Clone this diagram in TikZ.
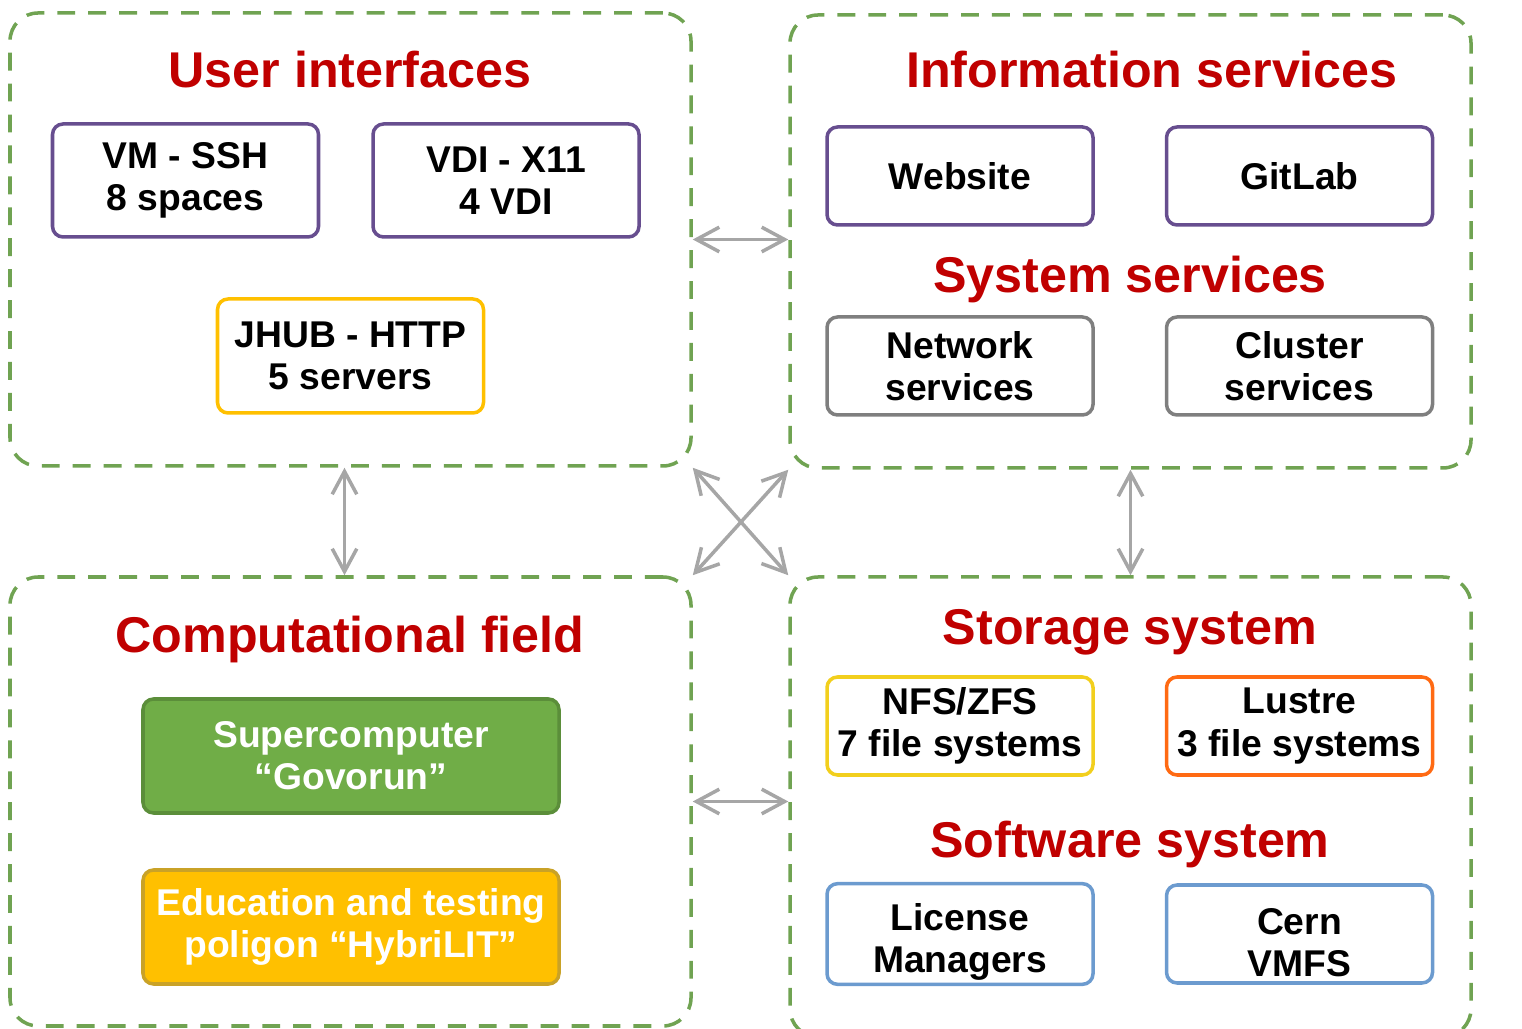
\documentclass[tikz,border=0pt]{standalone}
\usepackage{xcolor}
\usepackage{fontspec}
\setmainfont{Liberation Sans}
\usepackage{tikz}
\usetikzlibrary{shapes.geometric, arrows.meta}
\usetikzlibrary{positioning}
\definecolor{groupgreen}{HTML}{70A352}
\definecolor{headred}{HTML}{C00000}
\definecolor{boxpurple}{HTML}{674E8F}
\definecolor{boxgray}{HTML}{7F7F7F}
\definecolor{boxyellow}{HTML}{FFC000}
\definecolor{boxlemon}{HTML}{F2CF1D}
\definecolor{boxorange}{HTML}{FF6A13}
\definecolor{boxblue}{HTML}{6C9BCF}
\definecolor{supergreen}{HTML}{70AD47}
\definecolor{superedge}{HTML}{5B8E3A}
\definecolor{eduedge}{HTML}{C9A227}
\definecolor{arrowgray}{HTML}{A6A6A6}
\newcommand{\lowline}{\rule{0pt}{12.4pt}}
\tikzstyle{group} = [rectangle, rounded corners=8pt, draw=groupgreen, dash pattern=on 5.1pt off 3.7pt, line width=1pt, minimum width=6.81cm, minimum height=4.53cm, inner sep=0pt]
\tikzstyle{heading} = [text=headred, font=\fontsize{14.3}{17}\selectfont\bfseries]
\tikzstyle{service} = [rectangle, rounded corners=3pt, line width=1pt, minimum width=2.66cm, minimum height=0.98cm, text centered, align=center, fill=white, inner sep=1pt, font=\fontsize{10.6}{12}\selectfont\bfseries]
\tikzstyle{access} = [service, draw=boxpurple, minimum height=1.13cm]
\tikzstyle{bigbox} = [service, minimum width=4.16cm, minimum height=1.14cm, text=white]
\tikzstyle{arrow} = [line width=1pt, draw=arrowgray, {Straight Barb[length=6.5pt,width=7pt]}-{Straight Barb[length=6.5pt,width=7pt]}]

\begin{document}
\begin{tikzpicture}
\useasboundingbox (0,0) rectangle (15.22,10.28);
\clip (0,0) rectangle (15.22,10.28);
\node (ui) [group] at (3.505,7.885) {};
\node (info) [group] at (11.305,7.865) {};
\node (comp) [group, minimum height=4.49cm] at (3.505,2.265) {};
\node (stor) [group, minimum height=4.6cm] at (11.305,2.21) {};

\node (uititle) [heading] at (3.50,9.58) {User interfaces};
\node (vmssh) [access] at (1.855,8.475) {VM - SSH\\8 spaces};
\node (vdi) [access, right=0.51cm of vmssh] {VDI - X11\\4 VDI};
\node (jhub) [access, draw=boxyellow, minimum height=1.14cm] at (3.505,6.72) {JHUB - HTTP\\5 servers};

\node (infotitle) [heading] at (11.52,9.58) {Information services};
\node (website) [service, draw=boxpurple] at (9.60,8.52) {Website};
\node (gitlab) [service, draw=boxpurple, right=0.70cm of website] {GitLab};
\node (systitle) [heading] at (11.30,7.48) {System services};
\node (network) [service, draw=boxgray] at (9.60,6.62) {Network\\services};
\node (cluster) [service, draw=boxgray, right=0.70cm of network] {Cluster\\services};

\node (comptitle) [heading] at (3.50,3.88) {Computational field};
\node (super) [bigbox, draw=superedge, fill=supergreen] at (3.51,2.72) {Supercomputer\\“Govorun”};
\node (edu) [bigbox, draw=eduedge, fill=boxyellow] at (3.51,1.01) {Education and testing\\poligon “HybriLIT”};

\node (stortitle) [heading] at (11.30,3.96) {Storage system};
\node (nfs) [service, draw=boxlemon] at (9.60,3.02) {NFS/ZFS\\7 file systems};
\node (lustre) [service, draw=boxorange, right=0.70cm of nfs] {Lustre\\3 file systems};
\node (softtitle) [heading] at (11.30,1.83) {Software system};
\node (license) [service, draw=boxblue] at (9.60,0.94) {\lowline License\\Managers};
\node (cern) [service, draw=boxblue, right=0.70cm of license] {\lowline Cern\\VMFS};

\draw [arrow] (ui.east) -- (ui.east -| info.west);
\draw [arrow] (comp.east) -- (comp.east -| stor.west);
\draw [arrow] ([xshift=-0.06cm]ui.south) -- ([xshift=-0.06cm]ui.south |- comp.north);
\draw [arrow] (info.south) -- (info.south |- stor.north);
\draw [arrow] (ui.south east) -- (stor.north west);
\draw [arrow] (info.south west) -- (comp.north east);
\end{tikzpicture}
\end{document}
